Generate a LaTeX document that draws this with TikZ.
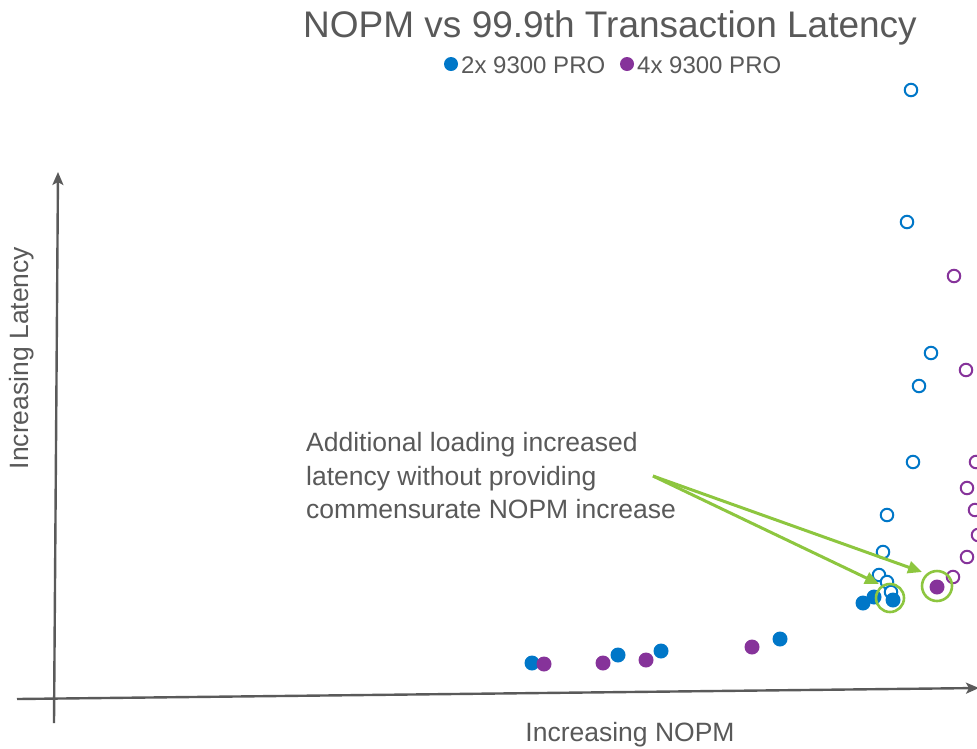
\documentclass[tikz,border=0pt]{standalone}
\usepackage{fontspec}
\setmainfont{Liberation Sans}
\usetikzlibrary{arrows.meta}
\definecolor{txtgray}{HTML}{595959}
\definecolor{axgray}{HTML}{5A5A5A}
\definecolor{ptblue}{HTML}{0077C8}
\definecolor{ptpurple}{HTML}{86339A}
\definecolor{hlgreen}{HTML}{8DC63F}
\tikzset{
  axisline/.style={draw=axgray, line width=2.4pt, -{Stealth[length=13pt,width=11pt,inset=3pt]}},
  fillpt/.style={circle, fill=#1, inner sep=0pt, minimum size=15pt},
  openpt/.style={circle, draw=#1, fill=white, line width=2pt, inner sep=0pt, minimum size=12.5pt},
  hlring/.style={circle, draw=hlgreen, line width=2.6pt, inner sep=0pt, minimum size=#1},
  garrow/.style={draw=hlgreen, line width=3pt, -{Triangle[length=14pt,width=12pt]}},
  lbl/.style={text=txtgray, inner sep=0pt}
}
\begin{document}
\begin{tikzpicture}[x=1pt,y=-1pt]
\useasboundingbox (0,0) rectangle (977,748);
% title and legend
\node[lbl, font=\fontsize{37}{40}\selectfont] (title) at (610,28) {NOPM vs 99.9th Transaction Latency};
\node[fillpt=ptblue, minimum size=14pt] (lgb) at (451,64) {};
\node[lbl, font=\fontsize{24}{27}\selectfont, anchor=west] (lgbt) at (461,65) {2x 9300 PRO};
\node[fillpt=ptpurple, minimum size=14pt] (lgp) at (627,64) {};
\node[lbl, font=\fontsize{24}{27}\selectfont, anchor=west] (lgpt) at (637,65) {4x 9300 PRO};
% axes
\coordinate (xs) at (17,699);
\coordinate (xe) at (979,688);
\coordinate (ys) at (54,723);
\coordinate (ye) at (58,172);
\draw[axisline] (xs) -- (xe);
\draw[axisline] (ys) -- (ye);
\node[lbl, font=\fontsize{26.5}{30}\selectfont] (xlab) at (630,735) {Increasing NOPM};
\node[lbl, font=\fontsize{26.5}{30}\selectfont, rotate=90] (ylab) at (22,358) {Increasing Latency};
% blue open points
\foreach \p in {(911,90),(907,222),(931,353),(919,386),(913,462),(887,515),(883,552),(879,575),(887,582),(891,592)}
  \node[openpt=ptblue] at \p {};
% purple open points
\foreach \p in {(954,276),(966,370),(976,462),(967,488),(975,510),(978,535),(967,557),(953,577)}
  \node[openpt=ptpurple] at \p {};
% blue filled points
\foreach \p in {(863,603),(874,597),(893,600),(532,663),(618,655),(661,651),(780,639)}
  \node[fillpt=ptblue] at \p {};
% purple filled points
\foreach \p in {(937,587),(544,664),(603,663),(646,660),(752,647)}
  \node[fillpt=ptpurple] at \p {};
% highlight rings
\node[hlring=28pt] (g1) at (890,598) {};
\node[hlring=30pt] (g2) at (937,586) {};
% annotation
\node[lbl, font=\fontsize{26.5}{33.5}\selectfont, align=left, anchor=west] (note) at (306,476)
  {Additional loading increased\\latency without providing\\commensurate NOPM increase};
\coordinate (as) at (653,476);
\coordinate (t1) at (879,584);
\coordinate (t2) at (922,572);
\draw[garrow] (as) -- (t1);
\draw[garrow] (as) -- (t2);
\end{tikzpicture}
\end{document}
